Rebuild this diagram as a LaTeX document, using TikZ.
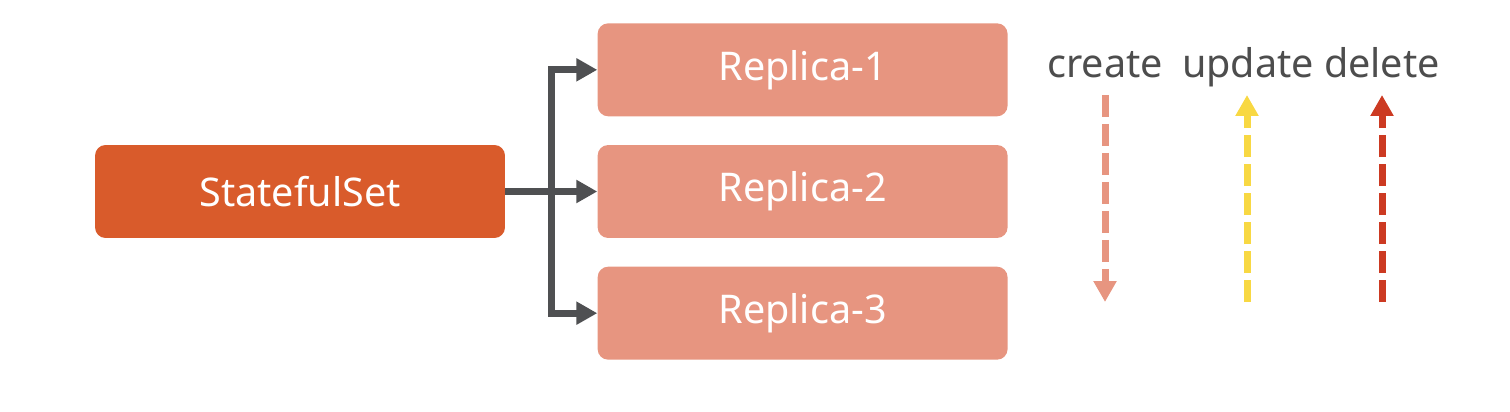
\documentclass[tikz,border=0pt]{standalone}
\usepackage{fontspec}
\setmainfont{Noto Sans}
\usetikzlibrary{arrows.meta,positioning}
\definecolor{setorange}{HTML}{D95B2B}
\definecolor{replicasalmon}{HTML}{E79580}
\definecolor{connectgray}{HTML}{4F5052}
\definecolor{labelgray}{HTML}{4D4D4D}
\definecolor{updateyellow}{HTML}{F8D843}
\definecolor{deletered}{HTML}{CC3A22}

\begin{document}
\begin{tikzpicture}[
  x=0.02cm, y=-0.02cm,
  box/.style={rectangle, rounded corners=6pt,
              minimum width=8.2cm, minimum height=1.86cm,
              text=white, font=\fontsize{22.5}{27}\selectfont},
  arr/.style={-{Triangle[length=0.42cm, width=0.44cm]},
              line width=0.14cm, connectgray},
  opline/.style={line width=0.14cm, dash pattern=on 0.44cm off 0.14cm,
                 -{Triangle[length=0.42cm, width=0.44cm]}},
  oplabel/.style={anchor=base, text=labelgray,
                  font=\fontsize{22.5}{27}\selectfont},
  node distance=0.56cm and 1.84cm
]
  \useasboundingbox (0,0) rectangle (1510,412);

  \node[box, fill=setorange] (ss) at (300,191.5) {StatefulSet};
  \node[box, fill=replicasalmon, right=of ss] (r2) {Replica-2};
  \node[box, fill=replicasalmon, above=of r2] (r1) {Replica-1};
  \node[box, fill=replicasalmon, below=of r2] (r3) {Replica-3};

  \coordinate (fork) at (551,191.5);
  \draw[arr] (ss.east) -- (r2.west);
  \draw[arr] (fork) |- (r1.west);
  \draw[arr] (fork) |- (r3.west);

  \node[oplabel] (create) at (1105,78) {create};
  \node[oplabel] (update) at (1248,78) {update};
  \node[oplabel] (delete) at (1382,78) {delete};

  \coordinate (c1) at (1105,95);
  \coordinate (c2) at (1105,302);
  \coordinate (u1) at (1247,302);
  \coordinate (u2) at (1247,95);
  \coordinate (d1) at (1382,302);
  \coordinate (d2) at (1382,95);
  \draw[opline, replicasalmon] (c1) -- (c2);
  \draw[opline, updateyellow] (u1) -- (u2);
  \draw[opline, deletered] (d1) -- (d2);
\end{tikzpicture}
\end{document}
